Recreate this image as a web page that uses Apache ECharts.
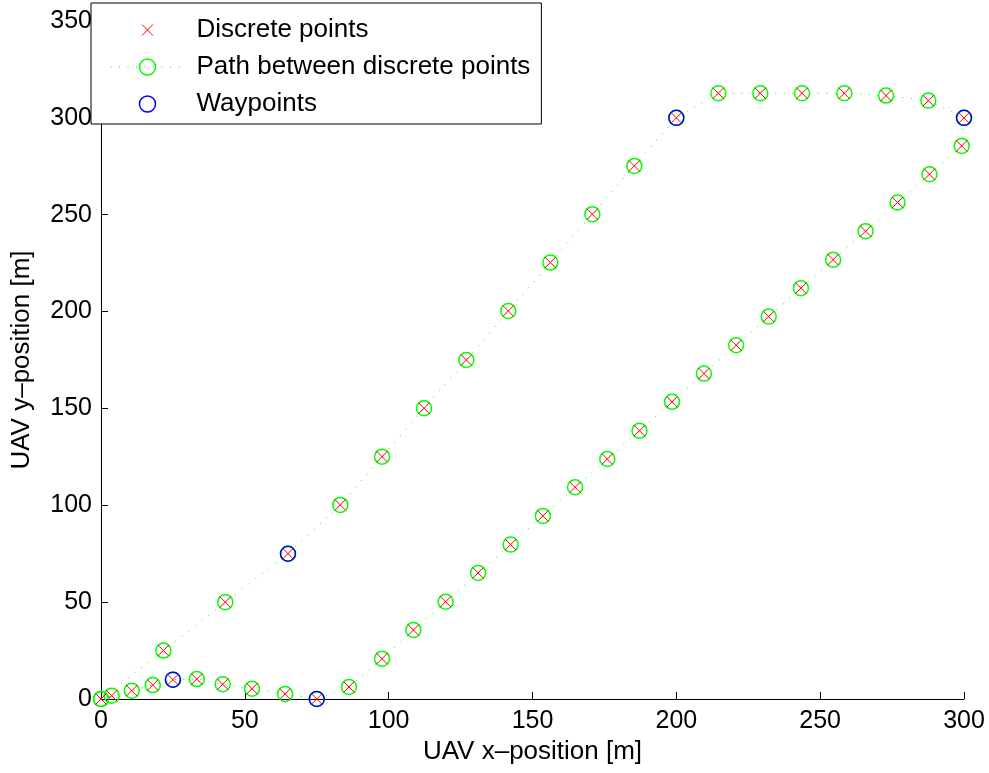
<!DOCTYPE html>
<html>
<head>
<meta charset="utf-8">
<script src="https://cdn.jsdelivr.net/npm/echarts@6/dist/echarts.min.js"></script>
<style>html,body{margin:0;padding:0;background:#fff}#c{width:989px;height:773px}</style>
</head>
<body>
<div id="c"></div>
<script>
// Discrete points along the flown path (in path order) [m]
const pathX = [0, 3.7, 10.7, 18.0, 25, 33.3, 42.3, 52.5, 64.0, 75, 86.2, 97.7, 108.6, 119.8, 131.1, 142.4, 153.6, 164.8, 176.0, 187.2, 198.5, 209.6, 220.8, 232.1, 243.3, 254.5, 265.8, 276.9, 288.0, 299.2, 300, 287.6, 272.9, 258.4, 243.7, 229.2, 214.6, 200, 185.4, 170.8, 156.2, 141.6, 127.0, 112.3, 97.7, 83.2, 65, 43.2, 21.7, 0];
const pathY = [0, 1.7, 4.3, 7.2, 10, 10.3, 7.6, 5.3, 2.6, 0, 6.2, 20.8, 35.6, 50.2, 65.1, 79.7, 94.5, 109.3, 123.9, 138.5, 153.4, 168.0, 182.6, 197.4, 212.1, 226.8, 241.5, 256.3, 270.9, 285.5, 300, 308.9, 311.5, 312.7, 312.7, 312.7, 312.7, 300, 275.2, 250.3, 225.3, 200.3, 175.0, 150.1, 125.1, 100.2, 75, 50, 25, 0];
// Waypoints [m]
const wpX = [25, 65, 75, 200, 300];
const wpY = [10, 75, 0, 300, 300];
// Axis ticks
const xTicks = [0, 50, 100, 150, 200, 250, 300];
const yTicks = [0, 50, 100, 150, 200, 250, 300, 350];
const seriesNames = ['Discrete points', 'Path between discrete points', 'Waypoints'];

const FONT = '"Liberation Sans", Arial, Helvetica, sans-serif';
const pathPts = pathX.map((x, i) => [x, pathY[i]]);
const wpPts = wpX.map((x, i) => [x, wpY[i]]);
const X_SYM = 'path://M0,0M16,16M2.5,2.5L13.5,13.5M13.5,2.5L2.5,13.5';

const chart = echarts.init(document.getElementById('c'), null, {renderer: 'canvas'});
const axisCommon = {
  type: 'value',
  axisLine: {show: true, onZero: false, lineStyle: {color: '#000', width: 1}},
  axisTick: {show: true, inside: true, length: 7, lineStyle: {color: '#000', width: 1}},
  axisLabel: {color: '#000', fontSize: 25, fontFamily: FONT, margin: 9},
  splitLine: {show: false},
  nameLocation: 'middle',
  nameTextStyle: {color: '#000', fontSize: 26, fontFamily: FONT}
};
chart.setOption({
  animation: false,
  backgroundColor: '#fff',
  grid: {left: 101, right: 25, top: 21, bottom: 74, containLabel: false},
  xAxis: Object.assign({}, axisCommon, {
    min: xTicks[0], max: xTicks[xTicks.length - 1], interval: xTicks[1] - xTicks[0],
    axisLabel: Object.assign({}, axisCommon.axisLabel, {margin: 10}),
    name: 'UAV x–position [m]', nameGap: 38
  }),
  yAxis: Object.assign({}, axisCommon, {
    min: yTicks[0], max: yTicks[yTicks.length - 1], interval: yTicks[1] - yTicks[0],
    name: 'UAV y–position [m]', nameGap: 66
  }),
  legend: {
    left: 91, top: 3, orient: 'vertical',
    padding: [14, 11, 7, 19], itemGap: 11, itemWidth: 74, itemHeight: 20,
    borderColor: '#000', borderWidth: 1, backgroundColor: '#fff',
    selectedMode: false,
    textStyle: {fontSize: 26, color: '#000', fontFamily: FONT, padding: [0, 0, 0, 7]},
    data: [
      {name: seriesNames[0], itemStyle: {color: 'none', borderColor: '#ff0000', borderWidth: 1}, lineStyle: {opacity: 0, width: 0}},
      {name: seriesNames[1], itemStyle: {color: 'none', borderColor: '#00ff00', borderWidth: 1.5}, lineStyle: {color: '#00ff00', width: 1, type: [1, 7.5], opacity: 1}},
      {name: seriesNames[2], itemStyle: {color: 'none', borderColor: '#0000ff', borderWidth: 1.5}, lineStyle: {opacity: 0, width: 0}}
    ]
  },
  series: [
    {
      name: seriesNames[1], type: 'line', data: pathPts,
      symbol: 'circle', symbolSize: 15, showSymbol: true, clip: false,
      itemStyle: {color: 'none', borderColor: '#00ff00', borderWidth: 1.5},
      lineStyle: {color: '#00ff00', width: 1, type: [1, 7.5]},
      emphasis: {disabled: true}, silent: true
    },
    {
      name: seriesNames[2], type: 'line', data: wpPts,
      symbol: 'circle', symbolSize: 15, showSymbol: true, clip: false,
      itemStyle: {color: 'none', borderColor: '#0000ff', borderWidth: 1.5},
      lineStyle: {width: 0, opacity: 0},
      emphasis: {disabled: true}, silent: true
    },
    {
      name: seriesNames[0], type: 'line', data: pathPts,
      symbol: X_SYM, symbolSize: 16, showSymbol: true, clip: false,
      itemStyle: {color: 'none', borderColor: '#ff0000', borderWidth: 1},
      lineStyle: {width: 0, opacity: 0},
      emphasis: {disabled: true}, silent: true
    }
  ]
});
</script>
</body>
</html>
